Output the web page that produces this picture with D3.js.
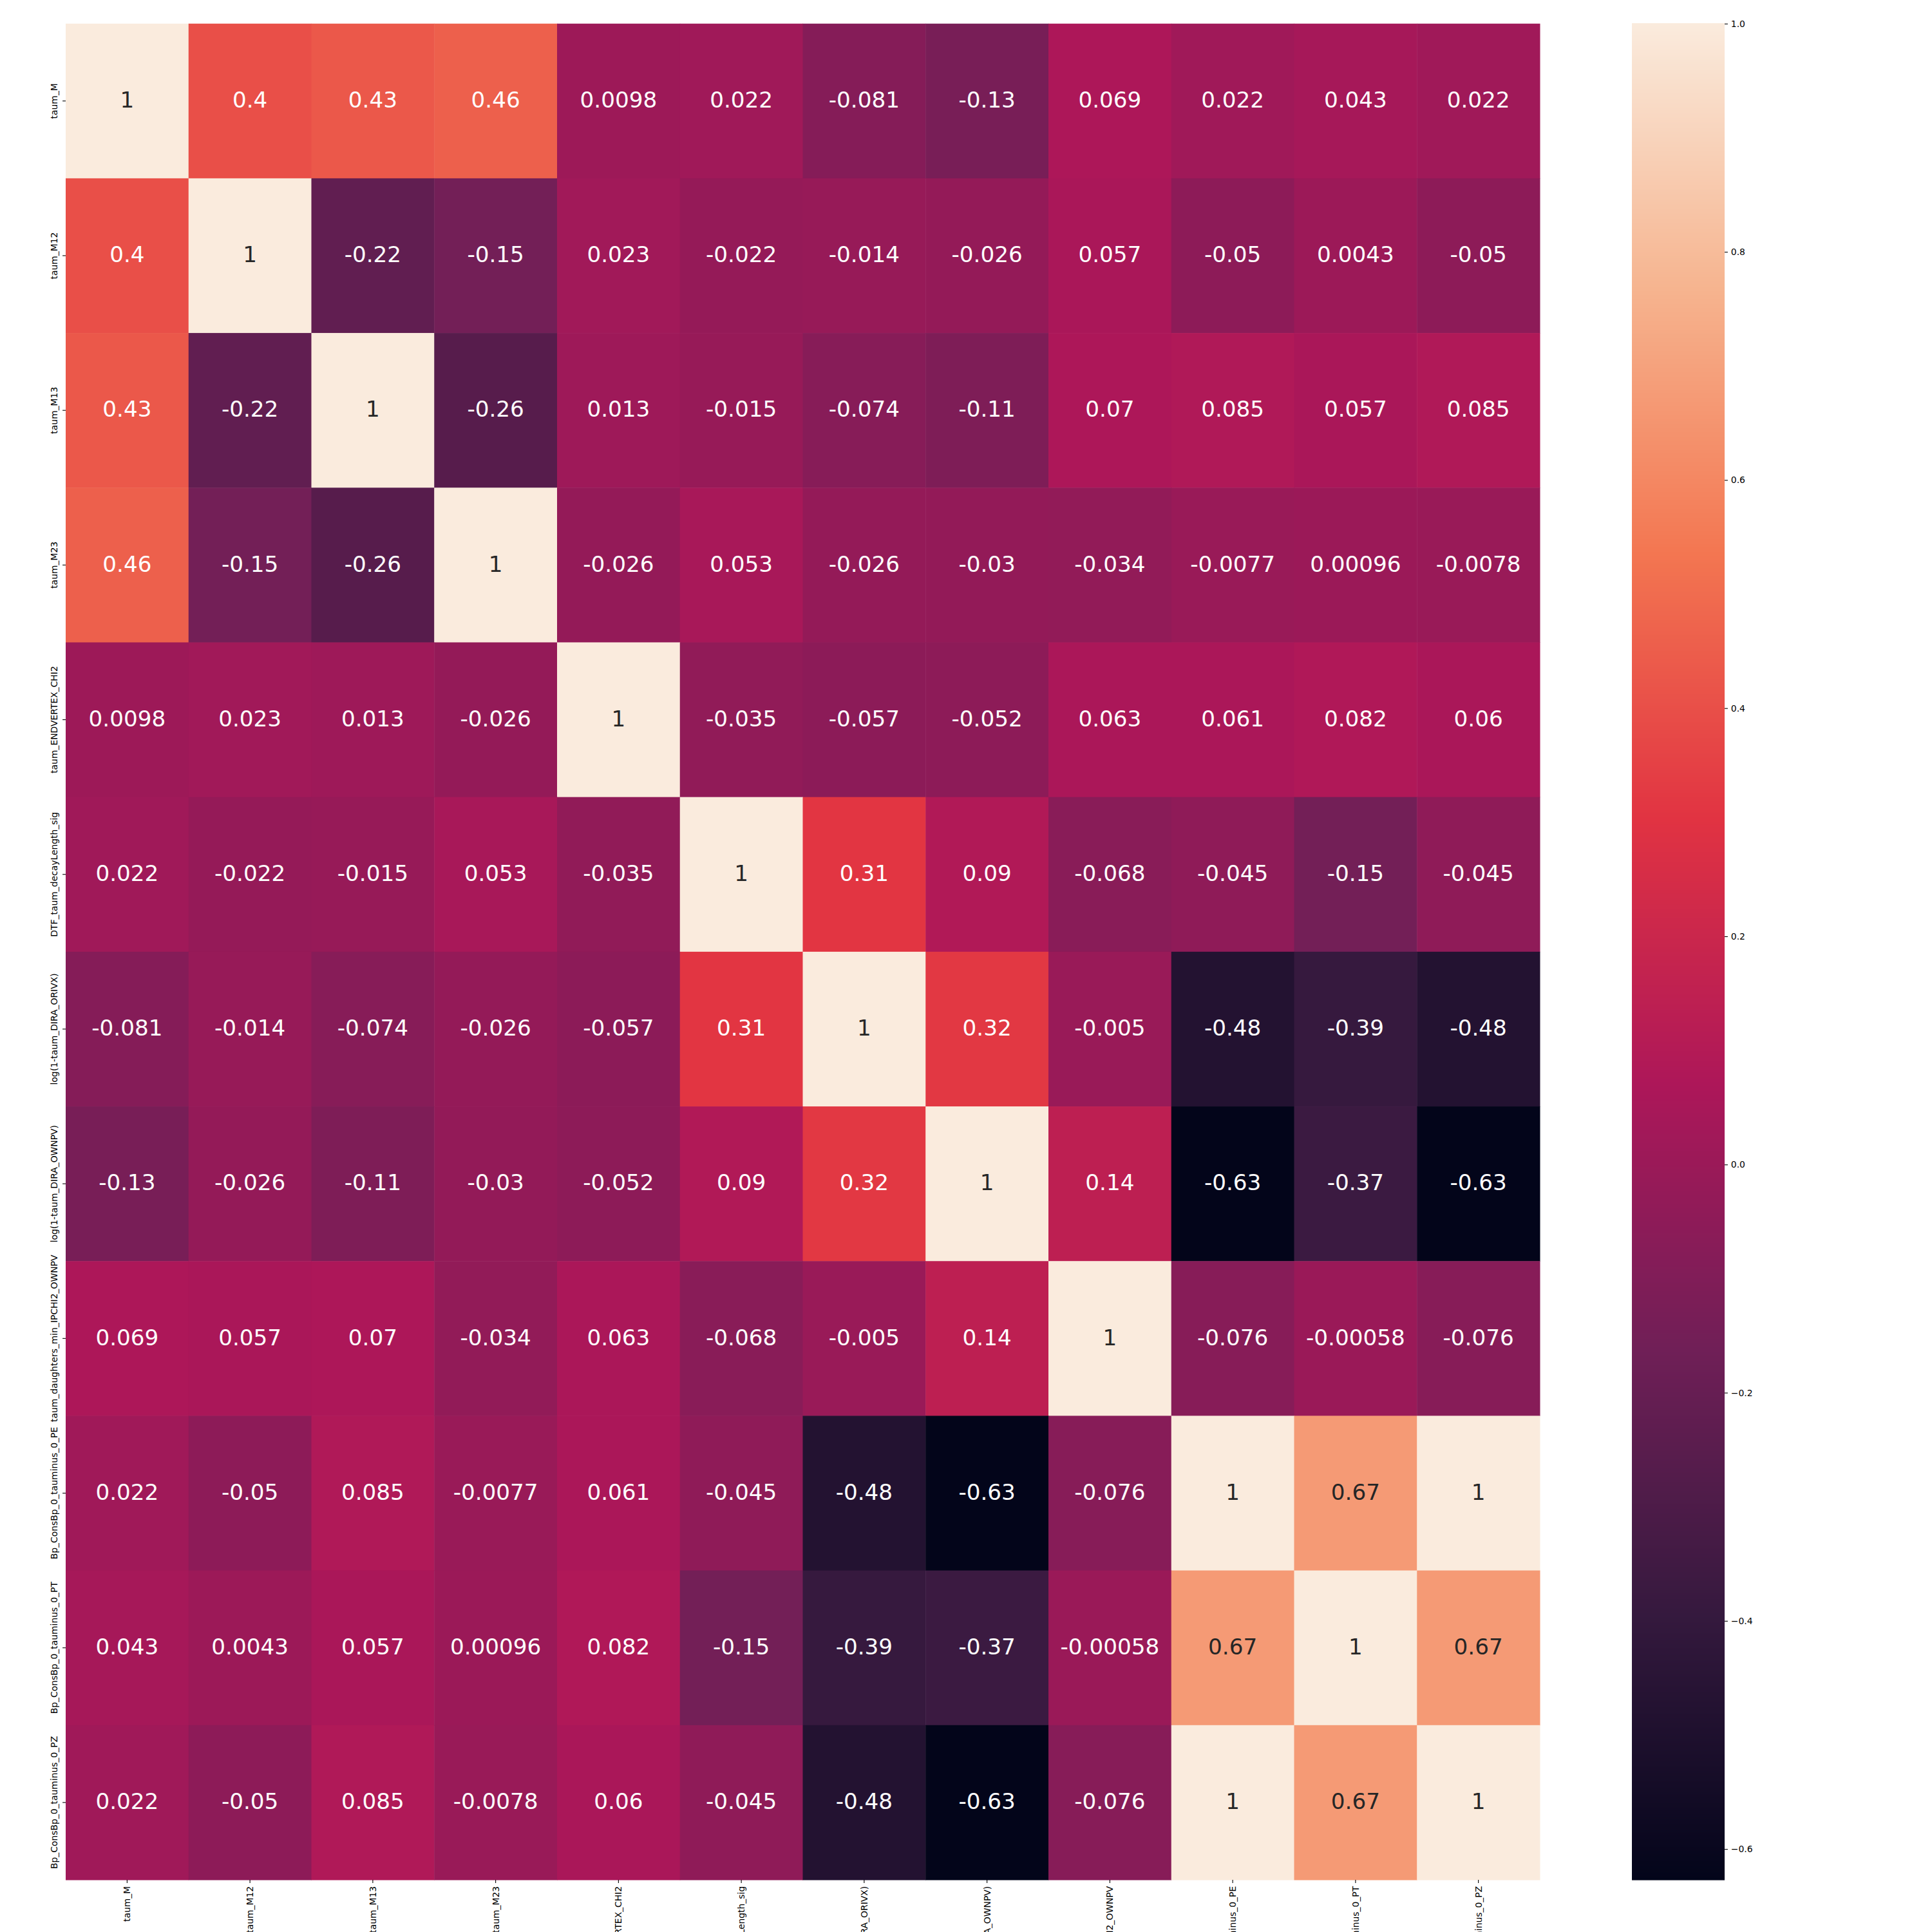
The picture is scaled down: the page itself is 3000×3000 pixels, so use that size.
<!DOCTYPE html>
<html>
<head>
<meta charset="utf-8">
<script src="https://cdn.jsdelivr.net/npm/d3@7"></script>
<style>
	body { margin: 0; background: #fff; }
	text { font-family: "DejaVu Sans", sans-serif; }
</style>
</head>
<body>
<svg id="chart" width="3000" height="3000"></svg>
<script>
var labels = ["taum_M", "taum_M12", "taum_M13", "taum_M23", "taum_ENDVERTEX_CHI2",
	"DTF_taum_decayLength_sig", "log(1-taum_DIRA_ORIVX)", "log(1-taum_DIRA_OWNPV)",
	"taum_daughters_min_IPCHI2_OWNPV", "Bp_ConsBp_0_tauminus_0_PE",
	"Bp_ConsBp_0_tauminus_0_PT", "Bp_ConsBp_0_tauminus_0_PZ"]

var corr = [
	[1, 0.4, 0.43, 0.46, 0.0098, 0.022, -0.081, -0.13, 0.069, 0.022, 0.043, 0.022],
	[0.4, 1, -0.22, -0.15, 0.023, -0.022, -0.014, -0.026, 0.057, -0.05, 0.0043, -0.05],
	[0.43, -0.22, 1, -0.26, 0.013, -0.015, -0.074, -0.11, 0.07, 0.085, 0.057, 0.085],
	[0.46, -0.15, -0.26, 1, -0.026, 0.053, -0.026, -0.03, -0.034, -0.0077, 0.00096, -0.0078],
	[0.0098, 0.023, 0.013, -0.026, 1, -0.035, -0.057, -0.052, 0.063, 0.061, 0.082, 0.06],
	[0.022, -0.022, -0.015, 0.053, -0.035, 1, 0.31, 0.09, -0.068, -0.045, -0.15, -0.045],
	[-0.081, -0.014, -0.074, -0.026, -0.057, 0.31, 1, 0.32, -0.005, -0.48, -0.39, -0.48],
	[-0.13, -0.026, -0.11, -0.03, -0.052, 0.09, 0.32, 1, 0.14, -0.63, -0.37, -0.63],
	[0.069, 0.057, 0.07, -0.034, 0.063, -0.068, -0.005, 0.14, 1, -0.076, -0.00058, -0.076],
	[0.022, -0.05, 0.085, -0.0077, 0.061, -0.045, -0.48, -0.63, -0.076, 1, 0.67, 1],
	[0.043, 0.0043, 0.057, 0.00096, 0.082, -0.15, -0.39, -0.37, -0.00058, 0.67, 1, 0.67],
	[0.022, -0.05, 0.085, -0.0078, 0.06, -0.045, -0.48, -0.63, -0.076, 1, 0.67, 1]
]

var colorLimits = [-0.627, 1]
var colorbarTicks = [-0.6, -0.4, -0.2, 0, 0.2, 0.4, 0.6, 0.8, 1.0]
// seaborn "rocket", sampled evenly
var rocketStops = ["#03051a", "#35193e", "#701f57", "#ad1759", "#e13342", "#f37651", "#f6b48f", "#faebdd"]

drawHeatmap()

function drawHeatmap() {
	var svg = d3.select("#chart")

	var x = d3.scaleBand().domain(labels).range([102, 2391])
	var y = d3.scaleBand().domain(labels).range([36.7, 2919])

	var lo = colorLimits[0], hi = colorLimits[1]
	var color = d3.scaleLinear()
		.domain(rocketStops.map(function(d, i) { return lo + i / (rocketStops.length - 1) * (hi - lo) }))
		.range(rocketStops)
		.interpolate(d3.interpolateRgb)
		.clamp(true)

	var cells = []
	corr.forEach(function(row, i) {
		row.forEach(function(v, j) {
			cells.push({ row: labels[i], col: labels[j], value: v })
		})
	})

	svg.append("g").selectAll("rect")
		.data(cells)
		.join("rect")
		.attr("x", function(d) { return x(d.col) })
		.attr("y", function(d) { return y(d.row) })
		.attr("width", x.bandwidth() + 0.5)
		.attr("height", y.bandwidth() + 0.5)
		.attr("fill", function(d) { return color(d.value) })

	var fmt = d3.formatLocale({ decimal: ".", thousands: ",", grouping: [3], currency: ["", ""], minus: "-" }).format(".2~g")

	svg.append("g").selectAll("text")
		.data(cells)
		.join("text")
		.attr("x", function(d) { return x(d.col) + x.bandwidth() / 2 })
		.attr("y", function(d) { return y(d.row) + y.bandwidth() / 2 })
		.attr("dy", "0.30em")
		.attr("text-anchor", "middle")
		.attr("font-size", "34.2px")
		.attr("fill", function(d) { return luminance(color(d.value)) > 0.408 ? "#262626" : "#ffffff" })
		.text(function(d) { return fmt(d.value) })

	// y axis
	var yAxis = svg.append("g")
		.attr("transform", "translate(102,0)")
		.call(d3.axisLeft(y).tickSize(4.9))
	styleAxis(yAxis)
	yAxis.selectAll("text")
		.attr("x", null).attr("dy", null)
		.attr("text-anchor", "middle")
		.attr("transform", "translate(-13,0) rotate(-90)")

	// x axis
	var xAxis = svg.append("g")
		.attr("transform", "translate(0,2919)")
		.call(d3.axisBottom(x).tickSize(4.9))
	styleAxis(xAxis)
	xAxis.selectAll("text")
		.attr("y", 0).attr("dy", "0.35em")
		.attr("text-anchor", "end")
		.attr("transform", "translate(0,9.8) rotate(-90)")

	drawColorbar(svg, color, lo, hi)
}

function drawColorbar(svg, color, lo, hi) {
	var cbLeft = 2534, cbWidth = 144
	var cy = d3.scaleLinear().domain([lo, hi]).range([2919, 36.7])

	var rows = d3.range(Math.floor(cy(hi)), Math.ceil(cy(lo)))
	svg.append("g").selectAll("rect")
		.data(rows)
		.join("rect")
		.attr("x", cbLeft)
		.attr("y", function(d) { return d })
		.attr("width", cbWidth)
		.attr("height", 1.6)
		.attr("fill", function(d) { return color(cy.invert(d + 0.5)) })

	var cbAxis = svg.append("g")
		.attr("transform", "translate(" + (cbLeft + cbWidth) + ",0)")
		.call(d3.axisRight(cy).tickValues(colorbarTicks).tickFormat(d3.format(".1f")).tickSize(4.9).tickPadding(4.9))
	styleAxis(cbAxis)
}

function styleAxis(g) {
	g.select(".domain").remove()
	g.selectAll(".tick line").attr("stroke", "#000").attr("stroke-width", 1.1)
	g.selectAll("text")
		.attr("fill", "#000")
		.attr("font-size", "13.9px")
		.attr("font-family", "'DejaVu Sans', sans-serif")
}

function luminance(c) {
	var rgb = d3.rgb(c)
	var lin = [rgb.r, rgb.g, rgb.b].map(function(v) {
		v = v / 255
		return v <= 0.03928 ? v / 12.92 : Math.pow((v + 0.055) / 1.055, 2.4)
	})
	return 0.2126 * lin[0] + 0.7152 * lin[1] + 0.0722 * lin[2]
}
</script>
</body>
</html>
